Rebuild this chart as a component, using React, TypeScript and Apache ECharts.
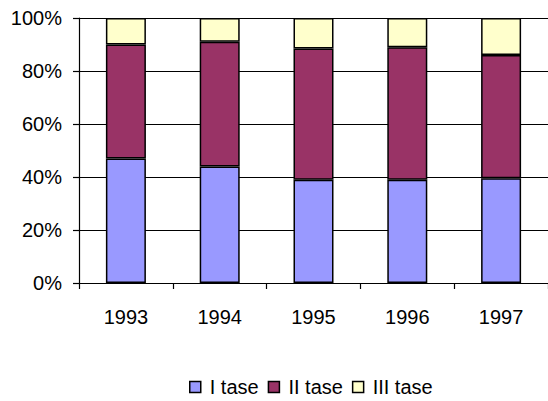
import React, { useEffect, useRef } from "react";
import * as echarts from "echarts";

const categories = ["1993", "1994", "1995", "1996", "1997"];
const seriesNames = ["I tase", "II tase", "III tase"];
const tase1 = [47, 44, 39, 39, 39.5];
const tase2 = [43, 47, 49.5, 50, 46.5];
const tase3 = [10, 9, 11.5, 11, 14];
const colors = ["#9999FF", "#993366", "#FFFFCC"];

export default function App() {
  const ref = useRef<HTMLDivElement>(null);
  useEffect(() => {
    if (!ref.current) return;
    const chart = echarts.init(ref.current, null, { renderer: "svg" });
    const font = "'Liberation Sans', Arial, sans-serif";
    const data = [tase1, tase2, tase3];
    chart.setOption({
      animation: false,
      backgroundColor: "#ffffff",
      textStyle: { fontFamily: font, color: "#000" },
      grid: { left: 79, top: 18, right: -2, bottom: 118, containLabel: false },
      legend: {
        data: seriesNames.map((name, i) => ({
          name,
          icon: "rect",
          itemStyle: { color: colors[i], borderColor: "#000", borderWidth: 1.5 },
        })),
        left: 189,
        top: 377,
        padding: 0,
        itemWidth: 11,
        itemHeight: 11,
        itemGap: 9,
        textStyle: { fontFamily: font, fontSize: 20, color: "#000", padding: [0, 0, 0, 4] },
      },
      xAxis: {
        type: "category",
        data: categories,
        axisLine: { show: true, lineStyle: { color: "#000", width: 1.2 } },
        axisTick: { show: true, length: 6, lineStyle: { color: "#000", width: 1.2 } },
        axisLabel: { margin: 24, fontSize: 20, color: "#000", fontFamily: font },
      },
      yAxis: {
        type: "value",
        min: 0,
        max: 100,
        interval: 20,
        axisLine: { show: true, lineStyle: { color: "#000", width: 1.2 } },
        axisTick: { show: true, length: 6, lineStyle: { color: "#000", width: 1.2 } },
        axisLabel: { formatter: "{value}%", margin: 17, fontSize: 20, color: "#000", fontFamily: font },
        splitLine: { show: true, lineStyle: { color: "#000", width: 1.2 } },
      },
      series: seriesNames.map((name, i) => ({
        name,
        type: "bar",
        stack: "total",
        barWidth: 40,
        data: data[i],
        itemStyle: { color: colors[i], borderColor: "#000", borderWidth: 1.5 },
      })),
    });
    return () => chart.dispose();
  }, []);
  return (
    <div
      ref={ref}
      style={{ position: "fixed", left: 0, top: 0, width: 548, height: 401 }}
    />
  );
}
